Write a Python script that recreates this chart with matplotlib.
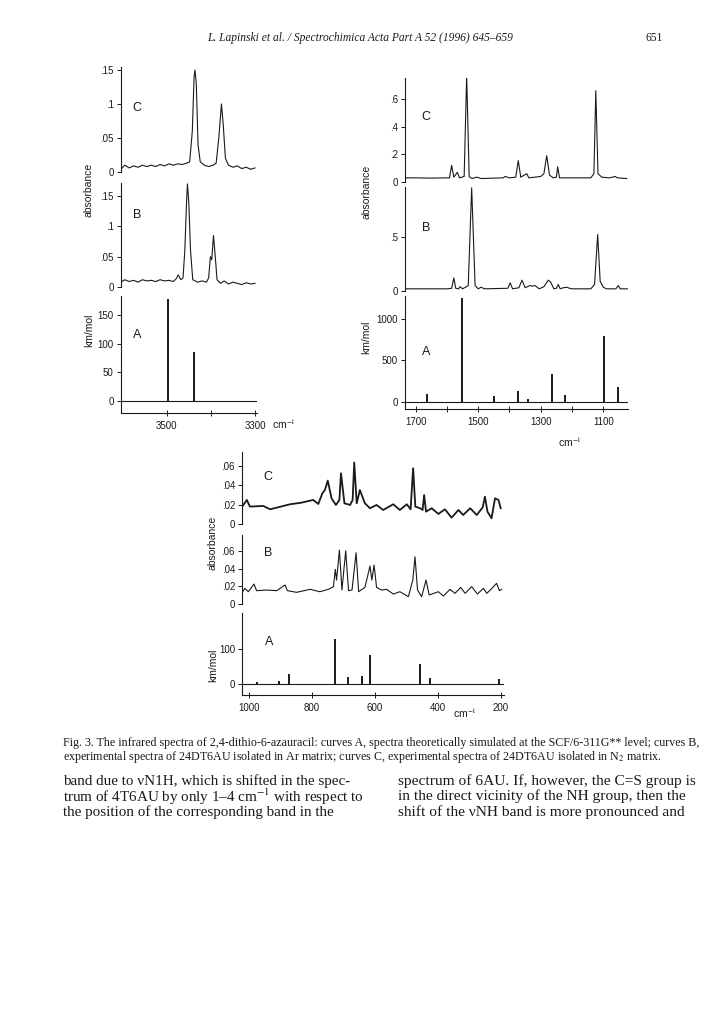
import matplotlib
matplotlib.use("Agg")
from matplotlib import pyplot as plt

W, H = 720, 1019

# ---------------- N-H stretching region (upper left) ----------------
nh_wn_c = [3604, 3595, 3585, 3575, 3565, 3555, 3545, 3535, 3525, 3515, 3505, 3495,
           3485, 3475, 3465, 3455, 3448, 3442, 3438, 3436, 3433, 3429, 3424, 3415,
           3405, 3395, 3388, 3382, 3376, 3372, 3367, 3360, 3350, 3340, 3330, 3320,
           3310, 3300]
nh_abs_c = [0.004, 0.010, 0.006, 0.009, 0.007, 0.010, 0.008, 0.010, 0.008, 0.011, 0.009, 0.012,
            0.010, 0.012, 0.011, 0.013, 0.015, 0.060, 0.140, 0.150, 0.130, 0.040, 0.015, 0.010,
            0.008, 0.010, 0.013, 0.050, 0.100, 0.070, 0.020, 0.010, 0.007, 0.009, 0.005, 0.007,
            0.004, 0.006]
nh_wn_b = [3604, 3595, 3585, 3575, 3565, 3555, 3545, 3535, 3525, 3515, 3505, 3495,
           3485, 3478, 3474, 3468, 3463, 3459, 3455, 3453, 3450, 3446, 3441, 3430,
           3420, 3410, 3405, 3401, 3398, 3394, 3390, 3386, 3378, 3370, 3360, 3350,
           3340, 3330, 3320, 3310, 3300]
nh_abs_b = [0.008, 0.012, 0.009, 0.011, 0.008, 0.012, 0.010, 0.011, 0.009, 0.012, 0.010, 0.011,
            0.009, 0.014, 0.020, 0.012, 0.015, 0.060, 0.140, 0.170, 0.140, 0.060, 0.012, 0.008,
            0.010, 0.008, 0.015, 0.050, 0.045, 0.085, 0.050, 0.012, 0.006, 0.010, 0.005, 0.008,
            0.006, 0.004, 0.007, 0.005, 0.006]
nh_calc_wn = [3496, 3438]
nh_calc_int = [178, 85]

# ---------------- 1730-1020 region (upper right) ----------------
mid_wn_c = [1730, 1700, 1650, 1600, 1592, 1585, 1578, 1567, 1560, 1545, 1537, 1529,
            1520, 1505, 1490, 1450, 1420, 1414, 1400, 1380, 1372, 1364, 1345, 1338,
            1300, 1290, 1281, 1272, 1260, 1250, 1246, 1240, 1200, 1140, 1130, 1124,
            1117, 1105, 1080, 1062, 1055, 1025]
mid_abs_c = [0.030, 0.030, 0.028, 0.030, 0.030, 0.120, 0.035, 0.070, 0.030, 0.040, 0.770, 0.040,
             0.025, 0.035, 0.025, 0.028, 0.030, 0.040, 0.030, 0.035, 0.155, 0.035, 0.060, 0.030,
             0.040, 0.060, 0.190, 0.050, 0.030, 0.035, 0.110, 0.030, 0.030, 0.030, 0.060, 0.660,
             0.060, 0.035, 0.030, 0.040, 0.030, 0.025]
mid_wn_b = [1730, 1600, 1585, 1578, 1572, 1563, 1558, 1550, 1532, 1521, 1510, 1500,
            1491, 1480, 1405, 1398, 1390, 1370, 1360, 1350, 1335, 1327, 1318, 1305,
            1290, 1276, 1268, 1258, 1250, 1244, 1238, 1228, 1217, 1208, 1200, 1140,
            1128, 1118, 1110, 1100, 1090, 1060, 1052, 1046, 1022]
mid_abs_b = [0.020, 0.020, 0.025, 0.120, 0.025, 0.020, 0.040, 0.020, 0.050, 0.950, 0.050, 0.020,
             0.035, 0.020, 0.025, 0.075, 0.020, 0.030, 0.100, 0.030, 0.050, 0.045, 0.050, 0.020,
             0.040, 0.100, 0.080, 0.020, 0.025, 0.060, 0.020, 0.030, 0.035, 0.025, 0.020, 0.020,
             0.060, 0.520, 0.090, 0.035, 0.020, 0.020, 0.050, 0.020, 0.020]
mid_calc_wn = [1665, 1553, 1450, 1372, 1342, 1265, 1223, 1098, 1054]
mid_calc_int = [93, 1250, 69, 129, 28, 335, 85, 799, 174]

# ---------------- 1020-200 region (bottom) ----------------
low_wn_c = [1023, 1007, 997, 955, 933, 870, 833, 796, 780, 767, 759, 750, 738, 724,
            713, 708, 697, 679, 671, 666, 658, 648, 632, 616, 595, 574, 542, 521,
            499, 487, 479, 472, 457, 449, 444, 438, 420, 399, 378, 357, 335, 320,
            298, 277, 258, 251, 243, 230, 219, 208, 201]
low_abs_c = [0.0173, 0.0249, 0.0180, 0.0187, 0.0152, 0.0204, 0.0221, 0.0249, 0.0207, 0.0318,
             0.0352, 0.0449, 0.0266, 0.0197, 0.0249, 0.0525, 0.0214, 0.0197, 0.0249, 0.0636,
             0.0214, 0.0352, 0.0214, 0.0163, 0.0197, 0.0145, 0.0204, 0.0145, 0.0204, 0.0152,
             0.0577, 0.0180, 0.0163, 0.0145, 0.0300, 0.0128, 0.0163, 0.0104, 0.0152, 0.0066,
             0.0145, 0.0093, 0.0163, 0.0093, 0.0173, 0.0283, 0.0128, 0.0059, 0.0266, 0.0249,
             0.0163]
low_wn_b = [1020, 1013, 1002, 984, 976, 944, 912, 886, 878, 849, 806, 775, 748, 732,
            726, 722, 713, 705, 693, 684, 673, 660, 652, 632, 616, 610, 603, 595,
            579, 563, 542, 521, 494, 480, 473, 465, 452, 438, 428, 399, 383, 362,
            346, 328, 314, 293, 275, 256, 245, 232, 214, 205, 198]
low_abs_b = [0.0139, 0.0177, 0.0139, 0.0226, 0.0151, 0.0158, 0.0151, 0.0215, 0.0151, 0.0132,
             0.0166, 0.0139, 0.0166, 0.0196, 0.0392, 0.0271, 0.0610, 0.0158, 0.0603, 0.0151,
             0.0158, 0.0580, 0.0139, 0.0188, 0.0429, 0.0271, 0.0441, 0.0188, 0.0158, 0.0166,
             0.0113, 0.0139, 0.0083, 0.0271, 0.0535, 0.0158, 0.0083, 0.0271, 0.0102, 0.0139,
             0.0090, 0.0166, 0.0121, 0.0188, 0.0121, 0.0196, 0.0113, 0.0177, 0.0121, 0.0166,
             0.0234, 0.0151, 0.0166]
low_calc_wn = [976, 904, 873, 726, 687, 640, 616, 457, 425, 205]
low_calc_int = [6, 8, 29, 128, 19, 24, 84, 58, 17, 14]

plt.rcParams['font.family'] = ['Liberation Sans Narrow', 'Liberation Sans', 'DejaVu Sans']
plt.rcParams['mathtext.fontset'] = 'stix'
INK = '#1a1a1a'

fig = plt.figure(figsize=(7.2, 10.19), dpi=100)


def px_axes(x0, x1, y_top, y_bot, xcal, ycal):
    # place an axes by page pixels; xcal/ycal are two (value, pixel) pairs
    ax = fig.add_axes([x0 / W, 1 - y_bot / H, (x1 - x0) / W, (y_bot - y_top) / H])
    wa, pa, wb, pb = xcal
    s = (wb - wa) / (pb - pa)
    ax.set_xlim(wa + (x0 - pa) * s, wa + (x1 - pa) * s)
    va, qa, vb, qb = ycal
    t = (vb - va) / (qb - qa)
    ax.set_ylim(va + (y_bot - qa) * t, va + (y_top - qa) * t)
    ax.patch.set_alpha(0)
    for side in ['top', 'right']:
        ax.spines[side].set_visible(False)
    for side in ['left', 'bottom']:
        ax.spines[side].set_linewidth(0.8)
        ax.spines[side].set_color(INK)
    ax.tick_params(colors=INK, labelsize=7, length=3, width=0.7, pad=2)
    return ax


def curve_panel(ax, wn, ab, yticks, ylabels, top, lw=0.8):
    ax.plot(wn, ab, color=INK, lw=lw)
    ax.spines['bottom'].set_visible(False)
    ax.spines['left'].set_bounds(0, top)
    ax.set_xticks([])
    ax.set_yticks(yticks)
    ax.set_yticklabels(ylabels)


def stick_panel(ax, wn, inten, yticks, xticks, xlabels):
    ax.vlines(wn, 0, inten, color=INK, lw=1.4)
    ax.axhline(0, color=INK, lw=0.8)
    ax.set_yticks(yticks)
    ax.set_yticklabels([str(v) for v in yticks])
    ax.set_xticks(xticks)
    ax.set_xticklabels(xlabels)
    ax.tick_params(axis='x', direction='inout', length=4, pad=4)


def ftext(x, y, s, **kw):
    kw.setdefault('color', INK)
    fig.text(x / W, 1 - y / H, s, **kw)


# upper left
xc1 = (3500, 166.7, 3300, 255)
ax = px_axes(120.7, 257, 66, 176, xc1, (0, 172, 0.15, 70))
curve_panel(ax, nh_wn_c, nh_abs_c, [0, 0.05, 0.1, 0.15], ['0', '.05', '.1', '.15'], 0.155)
ax = px_axes(120.7, 257, 181, 291, xc1, (0, 287, 0.15, 196))
curve_panel(ax, nh_wn_b, nh_abs_b, [0, 0.05, 0.1, 0.15], ['0', '.05', '.1', '.15'], 0.172)
ax = px_axes(120.7, 257, 296, 413, xc1, (0, 401, 150, 315))
stick_panel(ax, nh_calc_wn, nh_calc_int, [0, 50, 100, 150], [3500, 3400, 3300], ['3500', '', '3300'])

# upper right
xc2 = (1700, 415.7, 1100, 603.3)
ax = px_axes(405, 628, 78, 185, xc2, (0, 182, 0.6, 99))
curve_panel(ax, mid_wn_c, mid_abs_c, [0, 0.2, 0.4, 0.6], ['0', '.2', '.4', '.6'], 0.75)
ax = px_axes(405, 628, 187, 295, xc2, (0, 291, 0.5, 236.7))
curve_panel(ax, mid_wn_b, mid_abs_b, [0, 0.5], ['0', '.5'], 0.96)
ax = px_axes(405, 628, 296, 409, xc2, (0, 401.7, 1000, 319))
stick_panel(ax, mid_calc_wn, mid_calc_int, [0, 500, 1000],
            [1700, 1600, 1500, 1400, 1300, 1200, 1100],
            ['1700', '', '1500', '', '1300', '', '1100'])

# bottom
xc3 = (1000, 249, 200, 501)
ax = px_axes(242, 504, 452, 527, xc3, (0, 524, 0.06, 466))
curve_panel(ax, low_wn_c, low_abs_c, [0, 0.02, 0.04, 0.06], ['0', '.02', '.04', '.06'], 0.074, lw=1.3)
ax = px_axes(242, 504, 533, 607, xc3, (0, 604, 0.06, 551))
curve_panel(ax, low_wn_b, low_abs_b, [0, 0.02, 0.04, 0.06], ['0', '.02', '.04', '.06'], 0.078)
ax = px_axes(242, 504, 613, 695, xc3, (0, 684, 100, 649))
stick_panel(ax, low_calc_wn, low_calc_int, [0, 100], [1000, 800, 600, 400, 200],
            ['1000', '800', '600', '400', '200'])

# curve letters
for x, y, s in [(137, 108, 'C'), (137, 215, 'B'), (137, 335, 'A'),
                (426, 117, 'C'), (426, 228, 'B'), (426, 352, 'A'),
                (268, 477, 'C'), (268, 553, 'B'), (269, 642, 'A')]:
    ftext(x, y, s, fontsize=9, ha='center', va='center')

# axis titles
for x, y in [(89, 190), (366, 192), (213, 543)]:
    ftext(x, y, 'absorbance', fontsize=7.5, rotation=90, ha='center', va='center')
for x, y in [(89, 330), (366, 337), (213, 665)]:
    ftext(x, y, 'km/mol', fontsize=7.5, rotation=90, ha='center', va='center')
ftext(272, 424, 'cm$^{-1}$', fontsize=7.5, ha='left', va='center')
ftext(570, 442, 'cm$^{-1}$', fontsize=7.5, ha='center', va='center')
ftext(465, 713, 'cm$^{-1}$', fontsize=7.5, ha='center', va='center')

# page text
serif = ['Liberation Serif', 'DejaVu Serif']
ftext(207, 38, 'L. Lapinski et al. / Spectrochimica Acta Part A 52 (1996) 645\u2013659',
      fontsize=8.3, style='italic', family=serif, va='center')
ftext(645, 38, '651', fontsize=8.3, family=serif, va='center')

ftext(63, 743, 'Fig. 3. The infrared spectra of 2,4-dithio-6-azauracil: curves A, spectra theoretically '
      'simulated at the SCF/6-311G** level; curves B,', fontsize=8.65, family=serif, va='center')
ftext(63, 757, 'experimental spectra of 24DT6AU isolated in Ar matrix; curves C, experimental spectra '
      'of 24DT6AU isolated in N$_2$ matrix.', fontsize=8.65, family=serif, va='center')

left_col = ['band due to \u03bdN1H, which is shifted in the spec-',
            'trum of 4T6AU by only 1\u20134 cm$^{-1}$ with respect to',
            'the position of the corresponding band in the']
right_col = ['spectrum of 6AU. If, however, the C=S group is',
             'in the direct vicinity of the NH group, then the',
             'shift of the \u03bdNH band is more pronounced and']
for i, (a, b) in enumerate(zip(left_col, right_col)):
    y = 781 + i * 15.5
    ftext(63, y, a, fontsize=10.9, family=serif, va='center')
    ftext(398, y, b, fontsize=11.1, family=serif, va='center')

plt.savefig('out.png', dpi=100)
